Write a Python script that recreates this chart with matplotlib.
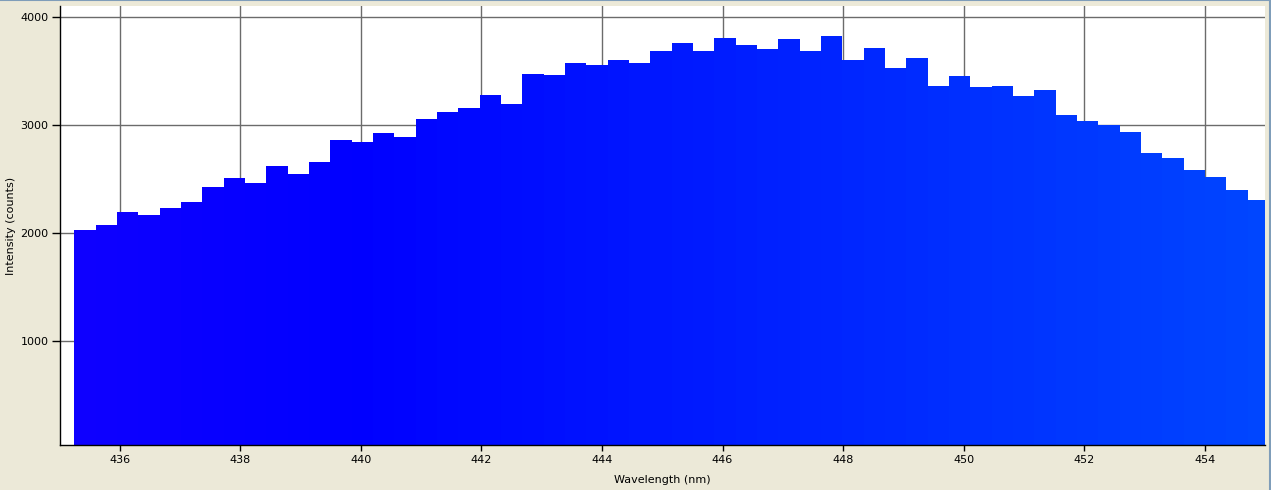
import matplotlib
matplotlib.use("Agg")
import matplotlib.pyplot as plt
import numpy as np
from matplotlib.colors import LinearSegmentedColormap
from matplotlib.lines import Line2D

# spectrum bins (left edge in nm, width in nm) and counts
bin_start = 435.245
bin_width = 0.354
counts = [
    2030, 2076, 2196, 2168, 2233, 2289, 2428, 2511, 2465, 2622,
    2548, 2659, 2862, 2844, 2927, 2890, 3056, 3121, 3158, 3278,
    3195, 3473, 3464, 3575, 3556, 3602, 3575, 3686, 3760, 3686,
    3806, 3741, 3704, 3797, 3686, 3825, 3602, 3713, 3528, 3621,
    3362, 3454, 3352, 3362, 3269, 3325, 3093, 3038, 3001, 2937,
    2743, 2696, 2585, 2520, 2400, 2307,
]
x_ticks = [436, 438, 440, 442, 444, 446, 448, 450, 452, 454]
y_ticks = [1000, 2000, 3000, 4000]

bg = "#ECE9D8"
fig = plt.figure(figsize=(12.71, 4.90), dpi=100, facecolor=bg)
ax = fig.add_axes([59.5 / 1271, 1 - 445.3 / 490, (1265 - 59.5) / 1271, (445.3 - 6) / 490])
ax.set_facecolor("white")

lefts = bin_start + bin_width * np.arange(len(counts))
centers = lefts + bin_width / 2

# blue gradient along the wavelength axis
cmap = LinearSegmentedColormap.from_list(
    "spec", [(0.0, (15 / 255, 0, 1)), (0.25, (0, 0, 1)), (1.0, (0, 70 / 255, 1))]
)
colors = cmap((centers - 435) / 20)
ax.bar(lefts, counts, width=bin_width, align="edge", color=colors,
       edgecolor="none", linewidth=0, zorder=2)

ax.set_xlim(435, 455)
ax.set_ylim(38, 4100)
ax.set_xticks(x_ticks)
ax.set_yticks(y_ticks)
ax.grid(True, color="#6b6b6b", linewidth=1.0, zorder=1)
ax.set_axisbelow(True)

for s in ["top", "right"]:
    ax.spines[s].set_visible(False)
for s in ["left", "bottom"]:
    ax.spines[s].set_color("black")
    ax.spines[s].set_linewidth(1.0)
    ax.spines[s].set_zorder(3)

ax.tick_params(axis="y", direction="out", length=6, width=1, color="black",
               labelsize=8, pad=2)
ax.tick_params(axis="x", direction="out", length=4, width=1, color="black",
               labelsize=8, pad=3)

ax.set_xlabel("Wavelength (nm)", fontsize=8, labelpad=7)
ax.set_ylabel("Intensity (counts)", fontsize=8)
ax.yaxis.set_label_coords(-0.0361, 0.5)

# window frame lines
fig.add_artist(Line2D([0, 1], [0.999, 0.999], color="#7f9db9", linewidth=1.5,
                      transform=fig.transFigure))
fig.add_artist(Line2D([0.9995, 0.9995], [0, 1], color="#7f9db9", linewidth=1.5,
                      transform=fig.transFigure))

fig.savefig("out.png", dpi=100, facecolor=bg)
